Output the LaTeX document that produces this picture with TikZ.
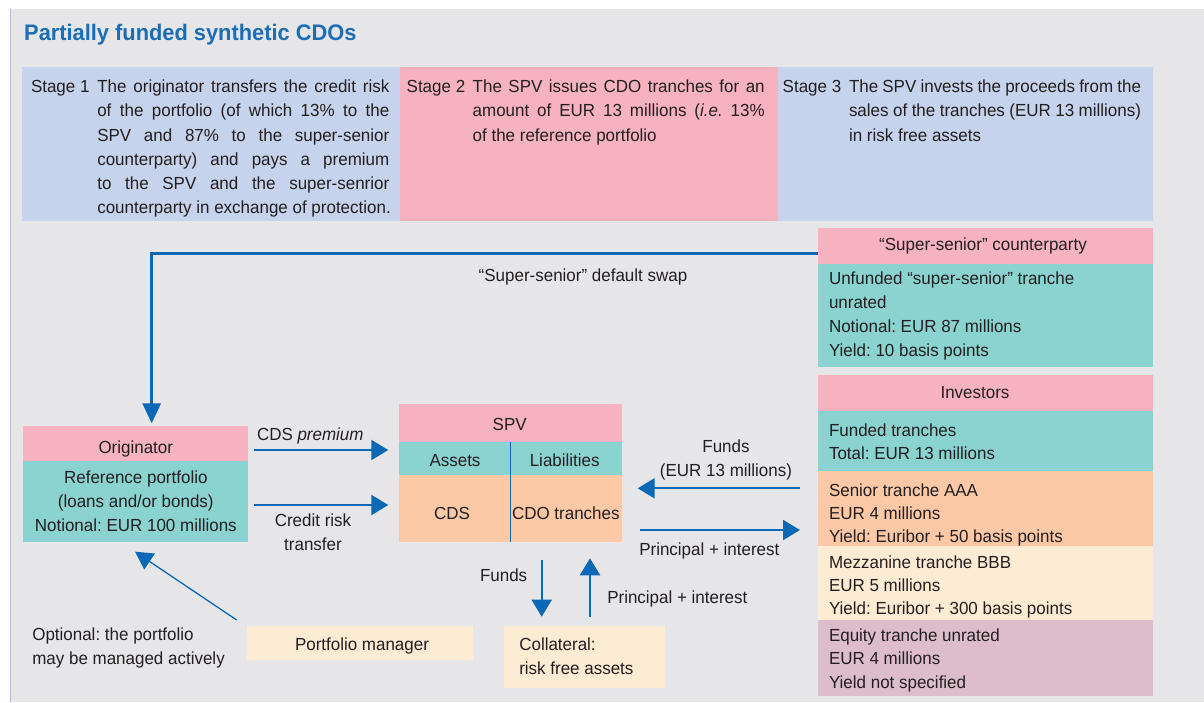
\documentclass[tikz,border=0pt]{standalone}
\usepackage{fontspec}
\setmainfont{Liberation Sans}[FakeStretch=0.97]
\usetikzlibrary{arrows.meta}
\definecolor{bgc}{HTML}{E6E6E9}
\definecolor{edgec}{HTML}{A9BCE0}
\definecolor{stageblue}{HTML}{C6D3EC}
\definecolor{pinkc}{HTML}{F6B2C1}
\definecolor{tealc}{HTML}{8AD3D1}
\definecolor{orangec}{HTML}{FCC8A5}
\definecolor{creamc}{HTML}{FEEBD4}
\definecolor{mauvec}{HTML}{DEBDCB}
\definecolor{arrowblue}{HTML}{0B68B5}
\definecolor{titleblue}{HTML}{1B6DB5}
\definecolor{txtc}{HTML}{231F20}
\frenchspacing
\begin{document}
\begin{tikzpicture}[x=1pt,y=-1pt,
  box/.style={draw=none, inner sep=0pt, outer sep=0pt, anchor=north west},
  txt/.style={inner sep=0pt, outer sep=0pt, text=txtc, font=\fontsize{17.5}{24.2}\selectfont},
  tr/.style={txt, font=\fontsize{17.5}{23.2}\selectfont},
  arr/.style={draw=arrowblue, line width=2.2pt, -{Triangle[width=20pt,length=17pt]}},
  swaparr/.style={draw=arrowblue, line width=3pt, -{Triangle[width=18pt,length=20pt]}},
  thinarr/.style={draw=arrowblue, line width=1.3pt, -{Triangle[width=19pt,length=17.6pt]}}
]
\useasboundingbox (0,0) rectangle (1204,702);
\fill[white] (0,0) rectangle (1204,702);
\fill[bgc] (10,9) rectangle (1204,702);
\draw[edgec, line width=1.5pt] (10.5,9) -- (10.5,702);

% title
\node[inner sep=0pt, anchor=base west, text=titleblue, font=\fontsize{22.5}{27}\selectfont\bfseries] (title) at (24,40) {Partially funded synthetic CDOs};

% stages (multi-line nodes: base anchor = last line's baseline)
\node[box, fill=stageblue, minimum width=378pt, minimum height=154.5pt] (s1) at (22,66.5) {};
\node[box, fill=pinkc, minimum width=377.5pt, minimum height=154.5pt] (s2) at (400,66.5) {};
\node[box, fill=stageblue, minimum width=375.8pt, minimum height=154.5pt] (s3) at (777.5,66.5) {};

\node[txt, anchor=base west] (s1lab) at (31,92.7) {Stage 1};
\node[txt, anchor=base west, align=left] (s1txt) at (97.3,213.7)
 {\makebox[292pt][s]{The originator transfers the credit risk}\\
  \makebox[292pt][s]{of the portfolio (of which 13\% to the}\\
  \makebox[292pt][s]{SPV and 87\% to the super-senior}\\
  \makebox[292pt][s]{counterparty) and pays a premium}\\
  \makebox[292pt][s]{to the SPV and the super-senrior}\\
  counterparty in exchange of protection.};

\node[txt, anchor=base west] (s2lab) at (406.7,92.7) {Stage 2};
\node[txt, anchor=base west, align=left] (s2txt) at (472.7,141.1)
 {\makebox[292pt][s]{The SPV issues CDO tranches for an}\\
  \makebox[292pt][s]{amount of EUR 13 millions (\textit{i.e.} 13\%}\\
  of the reference portfolio};

\node[txt, anchor=base west] (s3lab) at (782.7,92.7) {Stage 3};
\node[txt, anchor=base west, align=left] (s3txt) at (849,141.1)
 {\makebox[292pt][s]{The SPV invests the proceeds from the}\\
  \makebox[292pt][s]{sales of the tranches (EUR 13 millions)}\\
  in risk free assets};

% super-senior counterparty
\node[box, fill=pinkc, minimum width=335pt, minimum height=35.7pt] (ssh) at (818,228.3) {};
\node[box, fill=tealc, minimum width=335pt, minimum height=103pt] (ssb) at (818,264) {};
\node[txt, anchor=base] (sshl) at (983,250.5) {“Super-senior” counterparty};
\node[txt, anchor=base west, align=left] (ssbl) at (829,356.6)
 {Unfunded “super-senior” tranche\\unrated\\Notional: EUR 87 millions\\Yield: 10 basis points};

% investors
\node[box, fill=pinkc, minimum width=335pt, minimum height=36pt] (invh) at (818,374.7) {};
\node[box, fill=tealc, minimum width=335pt, minimum height=60.3pt] (invf) at (818,410.7) {};
\node[box, fill=orangec, minimum width=335pt, minimum height=75pt] (invs) at (818,471) {};
\node[box, fill=creamc, minimum width=335pt, minimum height=74pt] (invm) at (818,546) {};
\node[box, fill=mauvec, minimum width=335pt, minimum height=76pt] (inve) at (818,620) {};
\node[txt, anchor=base] (invhl) at (975,398.3) {Investors};
\node[tr, anchor=base west, align=left] (invfl) at (829,459.9) {Funded tranches\\Total: EUR 13 millions};
\node[tr, anchor=base west, align=left] (invsl) at (829,542.4) {Senior tranche AAA\\EUR 4 millions\\Yield: Euribor + 50 basis points};
\node[tr, anchor=base west, align=left] (invml) at (829,614.7) {Mezzanine tranche BBB\\EUR 5 millions\\Yield: Euribor + 300 basis points};
\node[tr, anchor=base west, align=left] (invel) at (829,688.1) {Equity tranche unrated\\EUR 4 millions\\Yield not specified};

% originator
\node[box, fill=pinkc, minimum width=225pt, minimum height=34.7pt] (orih) at (23.3,426) {};
\node[box, fill=tealc, minimum width=225pt, minimum height=81pt] (orib) at (23.3,460.7) {};
\node[txt, anchor=base] (orihl) at (135.8,453.3) {Originator};
\node[txt, anchor=base, align=center] (oribl) at (135.8,531.7) {Reference portfolio\\(loans and/or bonds)\\Notional: EUR 100 millions};

% SPV
\node[box, fill=pinkc, minimum width=222.7pt, minimum height=37.7pt] (spvh) at (399,404) {};
\node[box, fill=tealc, minimum width=222.7pt, minimum height=33.3pt] (spvt) at (399,441.7) {};
\node[box, fill=orangec, minimum width=222.7pt, minimum height=66.7pt] (spvo) at (399,475) {};
\draw[arrowblue, line width=1.3pt] (spvt.north) -- (spvo.south);
\node[txt, anchor=base] (spvhl) at (509.7,430) {SPV};
\node[txt, anchor=base] (spva) at (455,466.7) {Assets};
\node[txt, anchor=base] (spvl) at (564.7,466.7) {Liabilities};
\node[txt, anchor=base] (spvc) at (452,519.3) {CDS};
\node[txt, anchor=base] (spvd) at (565.8,519.3) {CDO tranches};

% portfolio manager and collateral
\node[box, fill=creamc, minimum width=225.4pt, minimum height=34pt] (pm) at (247.3,626) {};
\node[txt, anchor=base] (pml) at (362,650) {Portfolio manager};
\node[box, fill=creamc, minimum width=161pt, minimum height=61.7pt] (col) at (504,626) {};
\node[txt, anchor=base west, align=left] (coll) at (519.3,674.9) {Collateral:\\risk free assets};
\node[txt, anchor=base west, align=left] (opt) at (32.3,664.2) {Optional: the portfolio\\may be managed actively};

% super-senior default swap
\coordinate (swS) at (818,253.3);
\coordinate (swE) at (151.7,423.3);
\draw[swaparr] (swS) -| (swE);
\node[txt, anchor=base] (swl) at (583,281.7) {“Super-senior” default swap};

% originator -> SPV
\coordinate (cdsA) at (254,450);
\coordinate (cdsB) at (388.3,450);
\draw[arr] (cdsA) -- (cdsB);
\node[txt, anchor=base west] (cdsl) at (257,440.7) {CDS \textit{premium}};
\coordinate (crA) at (254,505);
\coordinate (crB) at (388.3,505);
\draw[arr] (crA) -- (crB);
\node[txt, anchor=base, align=center] (crl) at (313,550.2) {Credit risk\\transfer};

% investors <-> SPV
\coordinate (fuA) at (800,488.3);
\coordinate (fuB) at (637.7,488.3);
\draw[arr] (fuA) -- (fuB);
\node[txt, anchor=base, align=center] (ful) at (726,476.5) {Funds\\(EUR 13 millions)};
\coordinate (piA) at (640,530);
\coordinate (piB) at (800,530);
\draw[arr] (piA) -- (piB);
\node[txt, anchor=base west] (pil) at (639.3,555) {Principal + interest};

% SPV <-> collateral
\coordinate (fdA) at (541.7,560);
\coordinate (fdB) at (541.7,616.7);
\draw[arr] (fdA) -- (fdB);
\node[txt, anchor=base west] (fdl) at (480,581.7) {Funds};
\coordinate (upA) at (590,617.3);
\coordinate (upB) at (590,558.3);
\draw[arr] (upA) -- (upB);
\node[txt, anchor=base west] (upl) at (607.3,603.3) {Principal + interest};

% portfolio manager -> originator
\coordinate (pmA) at (236.7,620);
\coordinate (pmB) at (135,551.7);
\draw[thinarr] (pmA) -- (pmB);
\end{tikzpicture}
\end{document}
